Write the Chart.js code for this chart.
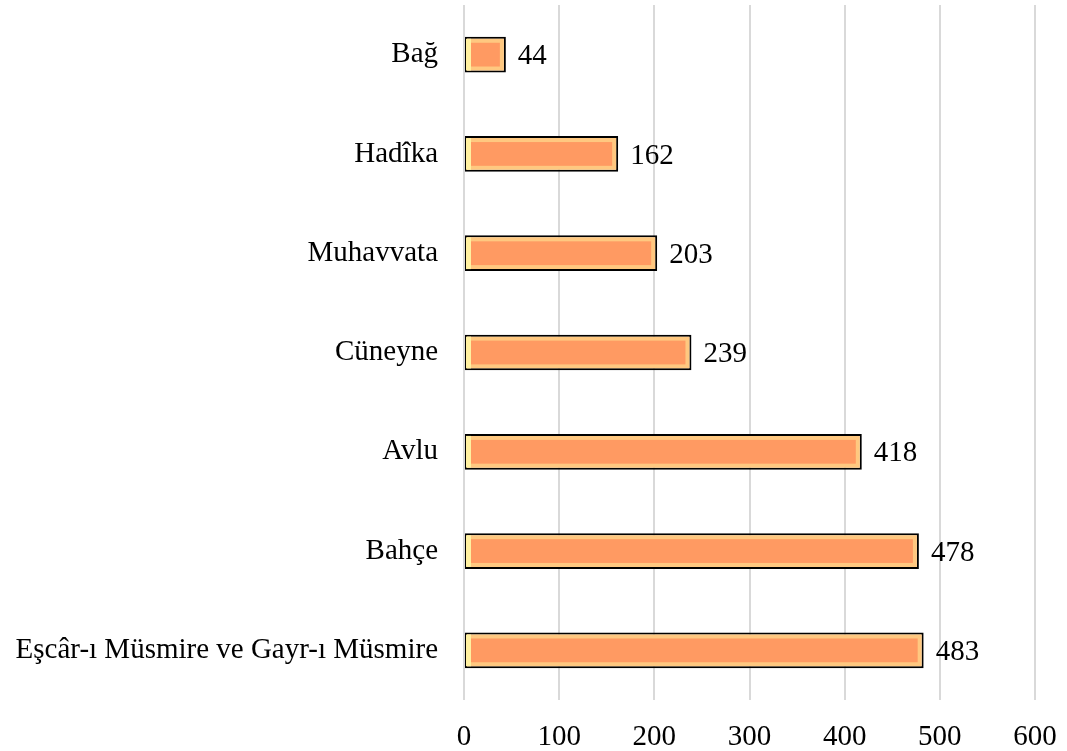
<!DOCTYPE html>
<html>
<head>
<meta charset="utf-8">
<script src="https://cdn.jsdelivr.net/npm/chart.js@4"></script>
<style>
  html, body { margin: 0; padding: 0; background: #fff; }
  #wrap { width: 1067px; height: 751px; }
</style>
</head>
<body>
<div id="wrap"><canvas id="myChart" width="1067" height="751"></canvas></div>
<script>
var categories = ['Bağ', 'Hadîka', 'Muhavvata', 'Cüneyne', 'Avlu', 'Bahçe', 'Eşcâr-ı Müsmire ve Gayr-ı Müsmire'];
var values = [44, 162, 203, 239, 418, 478, 483];
var xTicks = [0, 100, 200, 300, 400, 500, 600];

var serif = "'Liberation Serif', 'Times New Roman', serif";
var fontSize = 29;

// inner bevel + value labels
var bevelPlugin = {
    id: 'bevel',
    afterDatasetsDraw: function (chart) {
        var c = chart.ctx;
        var meta = chart.getDatasetMeta(0);
        meta.data.forEach(function (bar, i) {
            var left = bar.base, right = bar.x;
            var top = bar.y - bar.height / 2, bottom = bar.y + bar.height / 2;
            var inset = 6;
            c.save();
            c.fillStyle = '#FFF0A0';
            c.fillRect(left + 1, top + 2, inset - 1, bottom - top - 4);
            c.fillStyle = '#FF9A62';
            c.fillRect(left + inset, top + inset, Math.max(0, right - left - 2 * inset), bottom - top - 2 * inset);
            c.fillStyle = '#000';
            c.font = fontSize + 'px ' + serif;
            c.textAlign = 'left';
            c.textBaseline = 'middle';
            c.fillText(values[i], right + 12, bar.y + 2);
            c.restore();
        });
    }
};

var ctx = document.getElementById('myChart').getContext('2d');
var myChart = new Chart(ctx, {
    type: 'bar',
    data: {
        labels: categories,
        datasets: [{
            label: '',
            data: values,
            backgroundColor: '#FFC880',
            borderColor: '#000',
            borderWidth: 2,
            borderSkipped: false,
            barPercentage: 0.36,
            categoryPercentage: 1
        }]
    },
    options: {
        responsive: false,
        animation: false,
        indexAxis: 'y',
        layout: { padding: { top: 5, right: 32, left: 0, bottom: 0 } },
        plugins: {
            legend: { display: false },
            tooltip: { enabled: false }
        },
        scales: {
            x: {
                min: 0,
                max: 600,
                afterBuildTicks: function (scale) {
                    scale.ticks = xTicks.map(function (v) { return { value: v }; });
                },
                afterFit: function (scale) {
                    scale.height = 51;
                    scale.paddingLeft = 0;
                    scale.paddingRight = 0;
                },
                border: { display: false },
                grid: { color: '#d9d9d9', lineWidth: 2, drawTicks: false },
                ticks: { color: '#000', font: { family: serif, size: fontSize }, padding: 20, maxRotation: 0 }
            },
            y: {
                afterFit: function (scale) {
                    scale.width = 464;
                    scale.paddingTop = 0;
                    scale.paddingBottom = 0;
                },
                border: { display: false },
                grid: { display: false, drawTicks: false },
                ticks: { color: '#000', font: { family: serif, size: fontSize }, padding: 26 }
            }
        }
    },
    plugins: [bevelPlugin]
});
</script>
</body>
</html>
